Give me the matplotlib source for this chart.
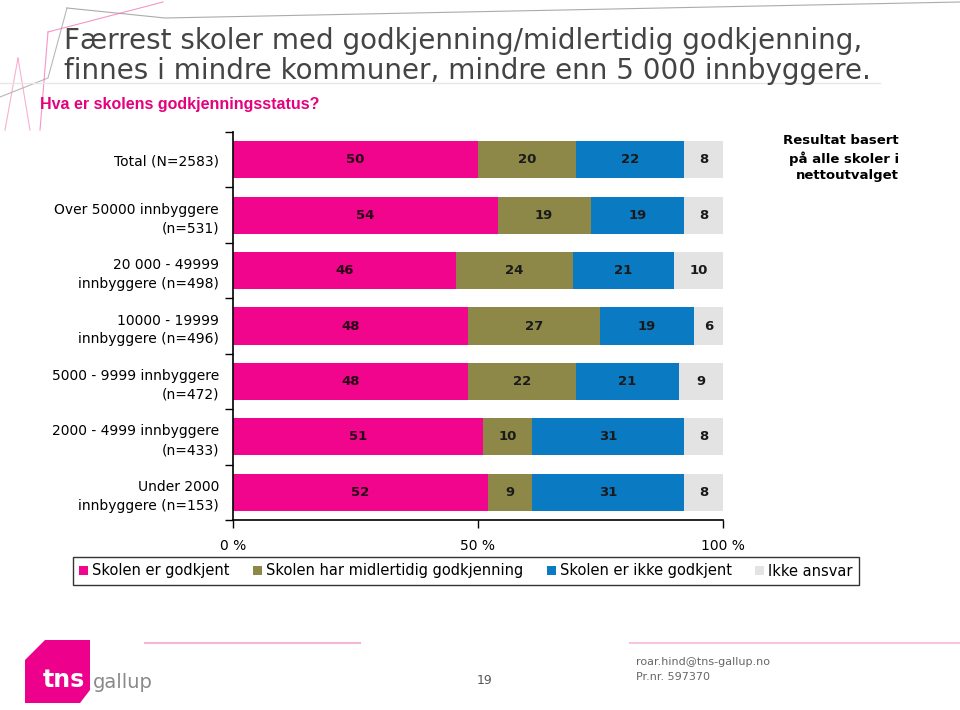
import matplotlib.pyplot as plt
import numpy as np
from matplotlib.patches import Patch, Polygon
from matplotlib.lines import Line2D

# rows top to bottom
categories = ['Total (N=2583)', 'Over 50000 innbyggere\n(n=531)', '20 000 - 49999\ninnbyggere (n=498)',
              '10000 - 19999\ninnbyggere (n=496)', '5000 - 9999 innbyggere\n(n=472)',
              '2000 - 4999 innbyggere\n(n=433)', 'Under 2000\ninnbyggere (n=153)']
godkjent = [50, 54, 46, 48, 48, 51, 52]
midlertidig = [20, 19, 24, 27, 22, 10, 9]
ikke_godkjent = [22, 19, 21, 19, 21, 31, 31]
ikke_ansvar = [8, 8, 10, 6, 9, 8, 8]
series_names = ['Skolen er godkjent', 'Skolen har midlertidig godkjenning',
                'Skolen er ikke godkjent', 'Ikke ansvar']
colors = ['#F0058C', '#8E8848', '#0A7BC2', '#E3E3E3']

# the slide is stretched sideways, DejaVu's wider glyphs match it better than Arial
plt.rcParams['font.family'] = ['DejaVu Sans']

W, H = 960, 710
fig = plt.figure(figsize=(9.6, 7.1), dpi=100)
fig.patch.set_facecolor('white')


def fx(x):
    return x / W


def fy(y):
    return 1 - y / H


# decorative lines in the top-left corner
deco = [((67, 8), (165, 18), (960, 2), '#888888'),
        ((67, 8), (48, 78), (0, 97), '#999999'),
        ((48, 32), (163, 2), (163, 2), '#F06AAE'),
        ((48, 32), (40, 130), (40, 130), '#F06AAE'),
        ((18, 58), (5, 130), (5, 130), '#F48FC0'),
        ((18, 58), (30, 130), (30, 130), '#F48FC0')]
for p0, p1, p2, c in deco:
    fig.add_artist(Line2D([fx(p0[0]), fx(p1[0]), fx(p2[0])], [fy(p0[1]), fy(p1[1]), fy(p2[1])],
                          color=c, lw=0.8, alpha=0.7))
fig.add_artist(Line2D([fx(0), fx(880)], [fy(83), fy(83)], color='#E6E6E6', lw=1))

fig.text(fx(64), fy(41), 'Færrest skoler med godkjenning/midlertidig godkjenning,',
         fontsize=20, color='#444444', va='center')
fig.text(fx(64), fy(71), 'finnes i mindre kommuner, mindre enn 5 000 innbyggere.',
         fontsize=20, color='#444444', va='center')
fig.text(fx(40), fy(104), 'Hva er skolens godkjenningsstatus?', fontsize=11.5,
         fontweight='bold', color='#E5007D', va='center', family='Liberation Sans')

ax = fig.add_axes([fx(233), fy(520), (723 - 233) / W, (520 - 132) / H])

data = np.array([godkjent, midlertidig, ikke_godkjent, ikke_ansvar], dtype=float)
shares = data / data.sum(axis=0) * 100
y = np.arange(len(categories))
left = np.zeros(len(categories))
for i in range(4):
    ax.barh(y, shares[i], left=left, height=0.67, color=colors[i], label=series_names[i])
    for j in range(len(categories)):
        ax.text(left[j] + shares[i][j] / 2, y[j], str(int(data[i][j])), ha='center', va='center',
                fontsize=9.5, fontweight='bold', color='#1a1a1a' if i != 0 else '#2a0018')
    left += shares[i]

ax.set_ylim(len(categories) - 0.5, -0.5)
ax.set_xlim(0, 100)
ax.set_yticks(y)
ax.set_yticklabels(categories, fontsize=10, linespacing=1.45)
ax.set_yticks(np.arange(-0.5, len(categories), 1), minor=True)
ax.tick_params(axis='y', which='major', length=0, pad=10)
ax.tick_params(axis='y', which='minor', length=6, width=1)
ax.set_xticks([0, 50, 100])
ax.set_xticklabels(['0 %', '50 %', '100 %'], fontsize=10)
ax.tick_params(axis='x', length=6, width=1, pad=8)
for s in ['top', 'right']:
    ax.spines[s].set_visible(False)
for s in ['left', 'bottom']:
    ax.spines[s].set_linewidth(1.2)

handles = [Patch(facecolor=c, edgecolor='none', label=n) for c, n in zip(colors, series_names)]
leg = fig.legend(handles=handles, loc='center', ncol=4, fontsize=10.5,
                 bbox_to_anchor=(fx(466), fy(571)), frameon=True, fancybox=False,
                 edgecolor='black', handlelength=0.6, handleheight=0.6,
                 handletextpad=0.3, columnspacing=1.6, borderpad=0.45)
leg.get_frame().set_linewidth(1)

fig.text(fx(899), fy(158), 'Resultat basert\npå alle skoler i\nnettoutvalget', ha='right',
         va='center', fontsize=9.5, fontweight='bold', linespacing=1.3)

# footer
fig.add_artist(Line2D([fx(145), fx(360)], [fy(643), fy(643)], color='#F7B5D5', lw=1.5))
fig.add_artist(Line2D([fx(630), fx(960)], [fy(643), fy(643)], color='#F7C5DD', lw=1.5))
logo = [(45, 640), (90, 640), (90, 690), (80, 703), (25, 703), (25, 660)]
fig.add_artist(Polygon([(fx(a), fy(b)) for a, b in logo], closed=True, facecolor='#EC008C',
                       edgecolor='none', transform=fig.transFigure))
fig.text(fx(43), fy(680), 'tns', fontsize=17, fontweight='bold', color='white', va='center')
fig.text(fx(93), fy(683), 'gallup', fontsize=14, color='#8a8a8a', va='center')
fig.text(fx(485), fy(681), '19', fontsize=9, color='#555555', ha='center', va='center')
fig.text(fx(636), fy(662), 'roar.hind@tns-gallup.no', fontsize=8, color='#666666', va='center')
fig.text(fx(636), fy(677), 'Pr.nr. 597370', fontsize=8, color='#666666', va='center')

fig.savefig('out.png', dpi=100)
